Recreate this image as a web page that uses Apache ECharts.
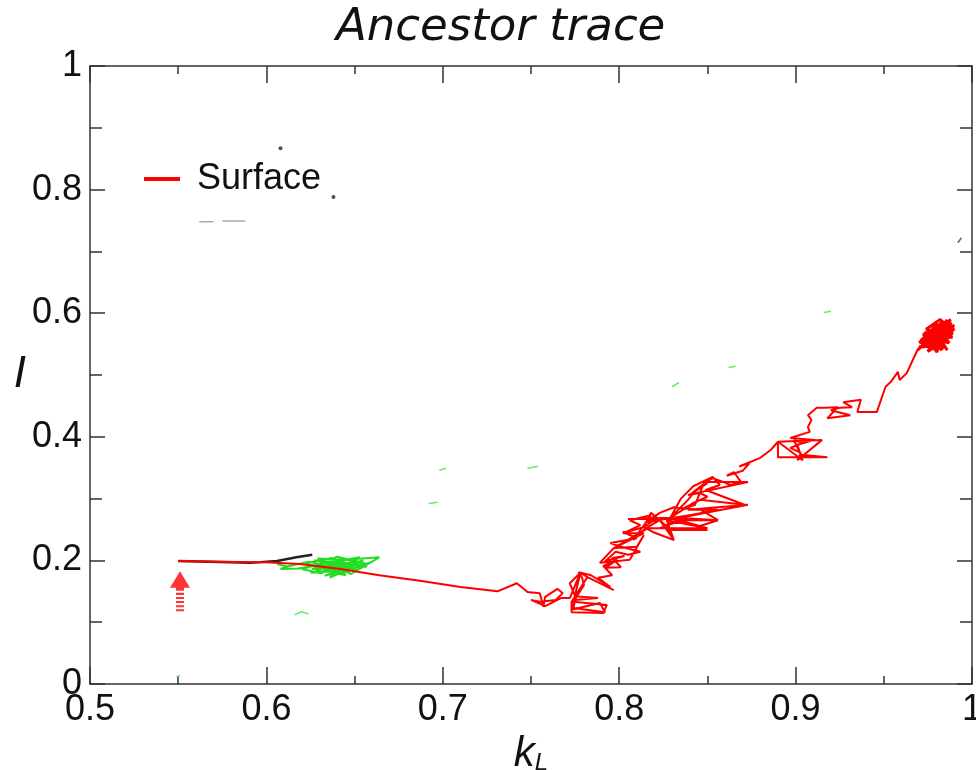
<!DOCTYPE html>
<html>
<head>
<meta charset="utf-8">
<script src="https://cdn.jsdelivr.net/npm/echarts@6/dist/echarts.min.js"></script>
<style>html,body{margin:0;padding:0;background:#fff}#c{width:976px;height:770px}</style>
</head>
<body>
<div id="c"></div>
<script>
// ---- data (k_L, I) ----
const titleText = 'Ancestor trace';
const legendName = 'Surface';
const xRange = [0.5, 1];
const yRange = [0, 1];

const surfaceTrace = [
  [0.550,0.199],[0.574,0.198],[0.599,0.197],[0.619,0.194],[0.642,0.186],[0.664,0.176],
  [0.687,0.167],[0.710,0.157],[0.731,0.150],[0.742,0.163],[0.748,0.149],[0.755,0.147],
  [0.757,0.125],[0.758,0.141],[0.765,0.154],[0.768,0.147],[0.764,0.136],[0.755,0.133],
  [0.750,0.136],[0.758,0.126],[0.767,0.139],[0.772,0.139],[0.778,0.180],[0.773,0.120],
  [0.789,0.131],[0.792,0.116],[0.774,0.123],[0.775,0.136],[0.788,0.139],[0.775,0.142],
  [0.772,0.163],[0.778,0.180],[0.782,0.173],[0.797,0.152],[0.782,0.173],[0.773,0.133],
  [0.773,0.116],[0.791,0.115],[0.793,0.128],[0.774,0.133],[0.780,0.160],
  [0.779,0.172],[0.777,0.181],[0.784,0.176],[0.795,0.157],[0.788,0.172],[0.796,0.176],
  [0.791,0.191],[0.799,0.201],[0.792,0.188],[0.801,0.189],[0.796,0.204],[0.803,0.207],
  [0.795,0.201],[0.791,0.196],[0.798,0.214],[0.805,0.209],[0.812,0.214],[0.801,0.222],
  [0.795,0.228],[0.810,0.236],[0.802,0.246],[0.804,0.246],[0.812,0.257],[0.806,0.265],
  [0.818,0.273],[0.808,0.233],[0.815,0.252],[0.823,0.265],[0.831,0.233],[0.826,0.257],
  [0.840,0.273],[0.815,0.262],[0.823,0.277],[0.831,0.286],[0.846,0.282],[0.856,0.265],
  [0.835,0.265],[0.823,0.252],[0.850,0.252],[0.829,0.269],
  [0.805,0.267],[0.821,0.267],[0.814,0.254],[0.802,0.244],[0.814,0.244],[0.797,0.220],
  [0.810,0.222],[0.814,0.241],[0.806,0.201],[0.789,0.196],[0.797,0.220],[0.816,0.252],
  [0.850,0.252],[0.827,0.265],[0.873,0.290],[0.839,0.282],[0.856,0.282],[0.833,0.269],
  [0.856,0.265],[0.844,0.254],[0.850,0.249],[0.829,0.249],[0.823,0.265],[0.818,0.277],
  [0.814,0.254],[0.819,0.246],[0.831,0.233],[0.827,0.265],[0.842,0.293],[0.850,0.303],
  [0.846,0.309],[0.839,0.306],[0.873,0.327],[0.848,0.327],[0.853,0.335],[0.842,0.320],
  [0.835,0.300],[0.829,0.269],
  [0.839,0.298],[0.842,0.309],
  [0.846,0.319],[0.850,0.325],[0.840,0.306],[0.853,0.335],[0.857,0.322],[0.849,0.314],
  [0.871,0.290],[0.846,0.298],[0.835,0.282],[0.843,0.290],[0.848,0.325],[0.853,0.333],
  [0.859,0.327],[0.863,0.322],[0.869,0.327],[0.865,0.343],[0.861,0.337],[0.870,0.345],
  [0.874,0.358],[0.868,0.352],[0.880,0.366],
  [0.886,0.379],[0.890,0.392],[0.890,0.367],[0.918,0.367],[0.903,0.371],[0.899,0.395],
  [0.904,0.390],[0.897,0.382],[0.903,0.374],[0.901,0.362],[0.915,0.395],[0.890,0.392],
  [0.904,0.362],[0.901,0.387],[0.911,0.395],[0.897,0.398],[0.908,0.408],[0.907,0.416],
  [0.909,0.427],[0.907,0.435],[0.912,0.447],[0.916,0.447],[0.924,0.448],[0.918,0.430],
  [0.931,0.435],[0.920,0.443],[0.925,0.447],[0.932,0.448],[0.927,0.456],[0.928,0.456],
  [0.937,0.460],[0.935,0.440],[0.946,0.440],[0.951,0.481],
  [0.954,0.489],[0.958,0.505],[0.959,0.492],[0.963,0.503],[0.969,0.540]
];

const surfaceBlob = [
  [0.969,0.540],[0.972,0.548],[0.985,0.571],[0.976,0.540],[0.988,0.566],[0.971,0.556],
  [0.983,0.585],[0.979,0.545],[0.990,0.575],[0.974,0.552],[0.986,0.589],[0.980,0.548],
  [0.970,0.545],[0.984,0.560],[0.977,0.580],[0.989,0.568],[0.975,0.538],[0.982,0.577],
  [0.973,0.561],[0.987,0.552],[0.979,0.586],[0.984,0.543],[0.976,0.570],[0.990,0.580],
  [0.971,0.550],[0.981,0.563],[0.986,0.540],[0.978,0.575],[0.972,0.558],[0.988,0.585],
  [0.983,0.548],[0.975,0.566],[0.985,0.578],[0.980,0.537],[0.977,0.560],[0.989,0.561],
  [0.974,0.574],[0.982,0.590],[0.987,0.570],[0.976,0.549],[0.984,0.568],[0.979,0.556],
  [0.973,0.566],[0.986,0.582],[0.981,0.545],[0.978,0.565],[0.985,0.555],[0.980,0.575],
  [0.975,0.545],[0.983,0.562],[0.988,0.576],[0.977,0.552],[0.982,0.583],[0.974,0.560],
  [0.970,0.552],[0.984,0.587],[0.978,0.541],[0.989,0.573],[0.972,0.565],[0.986,0.560],
  [0.981,0.580],[0.976,0.556],[0.988,0.590],[0.979,0.568],[0.983,0.540],[0.973,0.570]
];

const greenCluster = [
  [0.606,0.194],[0.612,0.190],[0.608,0.186],[0.618,0.187],[0.625,0.190],[0.632,0.196],
  [0.628,0.182],[0.640,0.198],[0.635,0.185],[0.645,0.203],[0.638,0.178],[0.650,0.195],
  [0.627,0.200],[0.642,0.190],[0.655,0.200],[0.633,0.175],[0.648,0.186],[0.660,0.198],
  [0.644,0.180],[0.622,0.195],[0.637,0.204],[0.652,0.184],[0.630,0.188],[0.646,0.196],
  [0.657,0.190],[0.625,0.180],[0.641,0.183],[0.653,0.205],[0.629,0.193],[0.639,0.200],
  [0.664,0.205],[0.648,0.178],[0.634,0.197],[0.620,0.186],[0.631,0.179],[0.643,0.194],
  [0.636,0.172],[0.650,0.190],[0.626,0.186],[0.640,0.206],[0.656,0.195],[0.632,0.184],
  [0.645,0.176],[0.629,0.203],[0.651,0.200],[0.638,0.188],[0.624,0.198],[0.612,0.190]
];

const greenBits = [
  [0.616,0.112],[0.620,0.117],[0.624,0.113], null,
  [0.549,0.012],[0.551,0.014], null,
  [0.916,0.601],[0.920,0.603], null,
  [0.862,0.512],[0.866,0.514], null,
  [0.830,0.481],[0.834,0.488], null,
  [0.748,0.349],[0.754,0.352], null,
  [0.698,0.346],[0.702,0.349], null,
  [0.692,0.292],[0.697,0.294]
];

const blackTrace = [[0.550,0.199],[0.591,0.196],[0.606,0.199],[0.617,0.205],[0.626,0.209]];
const blackDots = [[0.608,0.867],[0.638,0.788]];
const blackSlash = [[0.992,0.714],[0.994,0.722]];
const grayDash = [[0.562,0.748],[0.570,0.748], null, [0.575,0.749],[0.588,0.749]];
const startArrow = [[0.551,0.150]];

const chart = echarts.init(document.getElementById('c'), null, {renderer:'canvas'});
const axisCol = '#333';
const tickFont = {fontFamily:'Liberation Sans, Arial, sans-serif', fontSize:36, color:'#111'};

const arrowPath = 'path://M10,0 L20,16 L14,16 L14,19 L6,19 L6,16 L0,16 Z M6,21 L14,21 L14,23 L6,23 Z M6,25 L14,25 L14,27 L6,27 Z M6,29 L14,29 L14,31 L6,31 Z M6,33 L14,33 L14,35 L6,35 Z M6,37 L14,37 L14,39 L6,39 Z';

chart.setOption({
  animation:false,
  backgroundColor:'#fff',
  title:{text:titleText, left:331, top:1,
    textStyle:{fontFamily:'DejaVu Sans', fontStyle:'italic', fontWeight:'normal', fontSize:45, color:'#111'}},
  legend:{data:[legendName], left:139, top:156, icon:'rect', itemWidth:36, itemHeight:4,
    textStyle:{fontFamily:'Liberation Sans, Arial, sans-serif', fontSize:36, color:'#111', padding:[0,0,0,12]}},
  grid:{left:90, right:4, top:66, bottom:86, outerBoundsMode:'none', containLabel:false},
  xAxis:[{
    type:'value', min:xRange[0], max:xRange[1], interval:0.1, position:'bottom',
    axisLine:{show:true, onZero:false, lineStyle:{color:axisCol, width:1.5}},
    axisTick:{show:true, inside:true, length:17, lineStyle:{color:axisCol, width:1.5}},
    minorTick:{show:true, splitNumber:2, length:8, lineStyle:{color:axisCol, width:1.5}},
    splitLine:{show:false},
    axisLabel:Object.assign({margin:8, showMaxLabel:true}, tickFont),
    name:'{k|k}{s|L}', nameLocation:'middle', nameGap:42,
    nameTextStyle:{rich:{
      k:{fontFamily:'Liberation Sans, Arial', fontStyle:'italic', fontSize:42, color:'#111'},
      s:{fontFamily:'Liberation Sans, Arial', fontStyle:'italic', fontSize:24, color:'#111', verticalAlign:'bottom', padding:[18,0,0,0]}
    }}
  },{
    type:'value', min:xRange[0], max:xRange[1], interval:0.1, position:'top',
    axisLine:{show:true, onZero:false, lineStyle:{color:axisCol, width:1.5}},
    axisTick:{show:true, inside:true, length:17, lineStyle:{color:axisCol, width:1.5}},
    minorTick:{show:true, splitNumber:2, length:8, lineStyle:{color:axisCol, width:1.5}},
    splitLine:{show:false}, axisLabel:{show:false}
  }],
  yAxis:[{
    type:'value', min:yRange[0], max:yRange[1], interval:0.2, position:'left',
    axisLine:{show:true, onZero:false, lineStyle:{color:axisCol, width:1.5}},
    axisTick:{show:true, inside:true, length:15, lineStyle:{color:axisCol, width:1.5}},
    minorTick:{show:true, splitNumber:2, length:12, lineStyle:{color:axisCol, width:1.5}},
    splitLine:{show:false},
    axisLabel:Object.assign({margin:8}, tickFont),
    name:'I', nameLocation:'middle', nameGap:64, nameRotate:0,
    nameTextStyle:{fontFamily:'Liberation Sans, Arial', fontStyle:'italic', fontSize:44, color:'#111'}
  },{
    type:'value', min:yRange[0], max:yRange[1], interval:0.2, position:'right',
    axisLine:{show:true, onZero:false, lineStyle:{color:axisCol, width:1.5}},
    axisTick:{show:true, inside:true, length:15, lineStyle:{color:axisCol, width:1.5}},
    minorTick:{show:true, splitNumber:2, length:12, lineStyle:{color:axisCol, width:1.5}},
    splitLine:{show:false}, axisLabel:{show:false}
  }],
  series:[
    {name:'black', type:'line', data:blackTrace, symbol:'none', lineStyle:{color:'#222', width:2.5}, z:2},
    {name:'greenCluster', type:'line', data:greenCluster, symbol:'none', lineStyle:{color:'#22dd22', width:2}, z:3},
    {name:'greenBits', type:'line', data:greenBits, symbol:'none', connectNulls:false, lineStyle:{color:'#66ee66', width:1.5}, z:3},
    {name:legendName, type:'line', data:surfaceTrace, symbol:'none', lineStyle:{color:'#ff0000', width:2}, itemStyle:{color:'#ff0000'}, z:4},
    {name:'blob', type:'line', data:surfaceBlob, symbol:'none', lineStyle:{color:'#ff0000', width:3}, z:4},
    {name:'dots', type:'scatter', data:blackDots, symbol:'circle', symbolSize:4, itemStyle:{color:'#222'}},
    {name:'slash', type:'line', data:blackSlash, symbol:'none', lineStyle:{color:'#666', width:1.5}},
    {name:'gray', type:'line', data:grayDash, symbol:'none', connectNulls:false, lineStyle:{color:'#aaa', width:1.5}},
    {name:'arrow', type:'scatter', data:startArrow, symbol:arrowPath, symbolSize:[20,40], itemStyle:{color:'#ff0000'}, z:5}
  ]
});
</script>
</body>
</html>
